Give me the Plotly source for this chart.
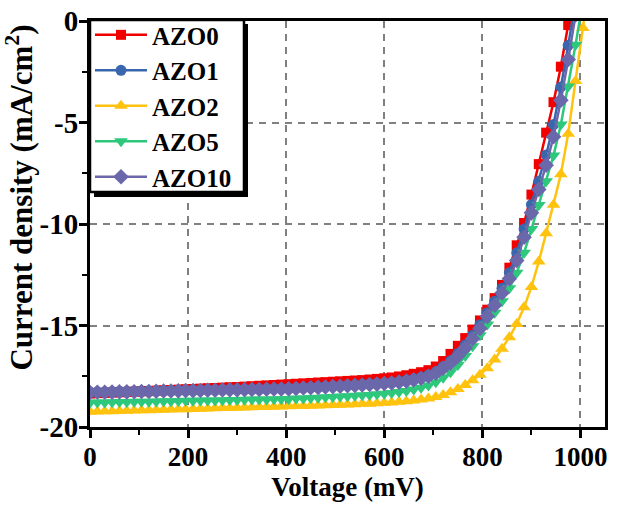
import plotly.graph_objects as go

# ---- data ----
voltage_mV = [0, 15, 30, 45, 60, 75, 90, 105, 120, 135,
              150, 165, 180, 195, 210, 225, 240, 255, 270, 285,
              300, 315, 330, 345, 360, 375, 390, 405, 420, 435,
              450, 465, 480, 495, 510, 525, 540, 555, 570, 585,
              600, 615, 630, 645, 660, 675, 690, 705, 720, 735,
              750, 765, 780, 795, 810, 825, 840, 855, 870, 885,
              900, 915, 930, 945, 960, 975, 990, 1005, 1020]

azo0 = [-18.35, -18.33, -18.32, -18.30, -18.29, -18.27, -18.26, -18.24, -18.23, -18.21,
        -18.19, -18.18, -18.16, -18.14, -18.13, -18.11, -18.09, -18.08, -18.06, -18.04,
        -18.03, -18.01, -17.99, -17.97, -17.95, -17.93, -17.91, -17.89, -17.87, -17.85,
        -17.83, -17.81, -17.79, -17.77, -17.75, -17.73, -17.71, -17.69, -17.66, -17.63,
        -17.60, -17.56, -17.51, -17.45, -17.38, -17.30, -17.20, -17.02, -16.75, -16.40,
        -16.00, -15.62, -15.20, -14.75, -14.22, -13.65, -13.00, -12.15, -11.05, -9.95,
        -8.55, -7.05, -5.50, -4.00, -2.25, -0.20, 1.90]

azo1 = [-18.28, -18.27, -18.27, -18.26, -18.25, -18.25, -18.24, -18.23, -18.23, -18.22,
        -18.21, -18.21, -18.20, -18.19, -18.19, -18.18, -18.17, -18.17, -18.16, -18.15,
        -18.15, -18.14, -18.13, -18.13, -18.12, -18.11, -18.11, -18.10, -18.08, -18.06,
        -18.05, -18.03, -18.01, -17.99, -17.97, -17.95, -17.93, -17.91, -17.88, -17.86,
        -17.83, -17.80, -17.76, -17.70, -17.63, -17.55, -17.44, -17.28, -17.02, -16.74,
        -16.38, -15.96, -15.48, -14.96, -14.37, -13.80, -13.17, -12.40, -11.42, -10.25,
        -9.05, -7.90, -6.60, -5.10, -3.25, -1.20, 1.00]

azo2 = [-19.25, -19.24, -19.23, -19.22, -19.21, -19.20, -19.19, -19.18, -19.17, -19.16,
        -19.15, -19.14, -19.13, -19.12, -19.11, -19.10, -19.09, -19.08, -19.07, -19.06,
        -19.05, -19.04, -19.03, -19.02, -19.01, -19.00, -18.99, -18.98, -18.97, -18.96,
        -18.95, -18.94, -18.93, -18.92, -18.90, -18.89, -18.88, -18.86, -18.85, -18.83,
        -18.81, -18.79, -18.76, -18.73, -18.69, -18.65, -18.59, -18.52, -18.42, -18.29,
        -18.13, -17.93, -17.70, -17.43, -17.10, -16.68, -16.15, -15.58, -14.92, -14.10,
        -13.10, -11.85, -10.45, -9.05, -7.55, -5.55, -2.95, -0.35, 2.30]

azo5 = [-18.80, -18.79, -18.79, -18.78, -18.77, -18.77, -18.76, -18.75, -18.75, -18.74,
        -18.73, -18.73, -18.72, -18.71, -18.71, -18.70, -18.69, -18.69, -18.68, -18.67,
        -18.67, -18.66, -18.65, -18.65, -18.64, -18.63, -18.63, -18.62, -18.60, -18.59,
        -18.57, -18.56, -18.54, -18.52, -18.50, -18.48, -18.46, -18.44, -18.42, -18.39,
        -18.36, -18.32, -18.28, -18.23, -18.15, -18.07, -17.96, -17.80, -17.58, -17.30,
        -16.95, -16.50, -16.02, -15.48, -14.95, -14.37, -13.80, -13.17, -12.40, -11.42,
        -10.25, -9.07, -7.90, -6.63, -5.10, -3.23, -1.17, 1.00]

azo10 = [-18.30, -18.29, -18.29, -18.28, -18.27, -18.27, -18.26, -18.25, -18.25, -18.24,
         -18.23, -18.23, -18.22, -18.21, -18.21, -18.20, -18.19, -18.19, -18.18, -18.17,
         -18.17, -18.16, -18.15, -18.15, -18.14, -18.13, -18.13, -18.12, -18.10, -18.08,
         -18.07, -18.05, -18.03, -18.01, -17.99, -17.97, -17.95, -17.93, -17.91, -17.89,
         -17.86, -17.83, -17.79, -17.74, -17.68, -17.60, -17.50, -17.35, -17.10, -16.85,
         -16.50, -16.10, -15.65, -15.15, -14.55, -14.00, -13.40, -12.70, -11.80, -10.65,
         -9.45, -8.30, -7.10, -5.70, -3.90, -1.90, 0.30]

series_names = ["AZO0", "AZO1", "AZO2", "AZO5", "AZO10"]
series_values = [azo0, azo1, azo2, azo5, azo10]
series_colors = ["#F20000", "#3A66AE", "#FFC20E", "#2DC87C", "#6A67AA"]
series_symbols = ["square", "circle", "triangle-up", "triangle-down", "diamond"]
series_msize = [10, 11, 12, 12, 12]

x_tick_vals = [0, 200, 400, 600, 800, 1000]
x_tick_text = ["0", "200", "400", "600", "800", "1000"]
y_tick_vals = [0, -5, -10, -15, -20]
y_tick_text = ["0", "-5", "-10", "-15", "-20"]

x_title = "Voltage (mV)"
y_title = "Current density (mA/cm<sup>2</sup>)"

FONT = "Liberation Serif"

fig = go.Figure()
for name, vals, col, sym, ms in zip(series_names, series_values, series_colors,
                                    series_symbols, series_msize):
    fig.add_trace(go.Scatter(
        x=voltage_mV[:len(vals)], y=vals, name=name,
        mode="lines+markers",
        line=dict(color=col, width=2.5),
        marker=dict(symbol=sym, size=ms, color=col, line=dict(width=0)),
    ))

axis_common = dict(
    showline=True, linecolor="black", linewidth=3, mirror=True,
    ticks="outside", ticklen=8, tickwidth=2.5, tickcolor="black",
    showgrid=True, gridcolor="#808080", gridwidth=1.5, griddash="7px,6px",
    zeroline=False, automargin=False, ticklabeloverflow="allow",
)

fig.update_xaxes(
    range=[0, 1050], tickvals=x_tick_vals, ticktext=x_tick_text,
    tickfont=dict(family=FONT, size=27, color="black", weight="bold"),
    ticklabelstandoff=-4,
    title=dict(text=x_title, font=dict(family=FONT, size=27, color="black", weight="bold"), standoff=4),
    minor=dict(ticks="outside", ticklen=5, tickwidth=2, tickcolor="black", dtick=100, tick0=0, showgrid=False),
    **axis_common,
)
fig.update_yaxes(
    range=[-20, 0], tickvals=y_tick_vals, ticktext=y_tick_text,
    tickfont=dict(family=FONT, size=29, color="black", weight="bold"),
    ticklabelstandoff=-5,
    minor=dict(ticks="outside", ticklen=5, tickwidth=2, tickcolor="black", dtick=2.5, tick0=0, showgrid=False),
    **axis_common,
)

# y-axis title placed as rotated text (matches the reference's offset position)
fig.add_annotation(text=y_title, textangle=-90, xref="paper", yref="paper",
                   x=-0.136, y=0.565, xanchor="center", yanchor="middle", showarrow=False,
                   font=dict(family=FONT, size=31, color="black", weight="bold"))

# legend frame: drop shadow + white box with black border (paper units)
fig.add_shape(type="rect", xref="paper", yref="paper",
              x0=0.0078, x1=0.3068, y0=0.5666, y1=0.9927,
              fillcolor="black", line=dict(width=0), layer="above")
fig.add_shape(type="rect", xref="paper", yref="paper",
              x0=0.0, x1=0.299, y0=0.5787, y1=1.0024,
              fillcolor="white", line=dict(color="black", width=2.5), layer="above")

fig.update_layout(
    width=624, height=512,
    margin=dict(l=90, r=19, t=14, b=85),
    plot_bgcolor="white", paper_bgcolor="white",
    legend=dict(x=0.0, y=1.022, xanchor="left", yanchor="top",
                bgcolor="rgba(0,0,0,0)", borderwidth=0,
                font=dict(family=FONT, size=25, color="black", weight="bold"),
                tracegroupgap=0, itemwidth=52),
)

fig.write_html("out.html", config={"displayModeBar": False},
               post_script="document.body.style.margin='0px';")
